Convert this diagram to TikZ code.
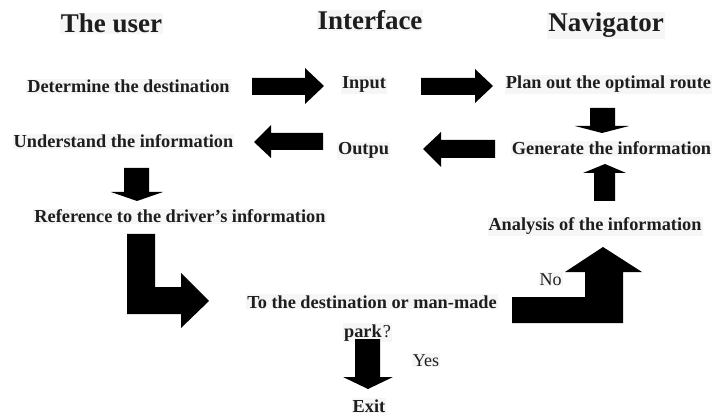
\documentclass[tikz,border=0pt]{standalone}
\usepackage{fontspec}
\setmainfont{Liberation Serif}
\definecolor{ink}{RGB}{30,30,30}
\definecolor{txtbg}{RGB}{246,246,246}
\begin{document}
\begin{tikzpicture}[x=1pt,y=-1pt,
  head/.style={anchor=base,inner sep=1pt,fill=txtbg,text=ink,font=\fontsize{27}{32}\selectfont\bfseries},
  lbl/.style={anchor=base,inner sep=1pt,fill=txtbg,text=ink,font=\fontsize{18.3}{22}\selectfont\bfseries},
  ans/.style={anchor=base,inner sep=1pt,fill=txtbg,text=ink,font=\fontsize{18}{22}\selectfont},
  blk/.style={fill=black}]
\useasboundingbox[fill=white] (0,0) rectangle (713,417);
% headings
\node[head] (huser) at (111.5,33) {The user};
\node[head] (hint) at (370,30) {Interface};
\node[head] (hnav) at (606,32) {Navigator};
% labels
\node[lbl] (det) at (128.5,93) {Determine the destination};
\node[lbl] (inp) at (364,89) {Input};
\node[lbl] (plan) at (608.5,89) {Plan out the optimal route};
\node[lbl] (und) at (123.5,148) {Understand the information};
\node[lbl] (out) at (363.5,155) {Outpu};
\node[lbl] (gen) at (611.5,155) {Generate the information};
\node[lbl] (ref) at (180,223) {Reference to the driver’s information};
\node[lbl] (ana) at (595,231) {Analysis of the information};
\node[lbl] (dest) at (372,308) {To the destination or man-made};
\node[lbl] (park) at (367.5,337) {park\kern1pt\mdseries ?};
\node[ans] (yes) at (426,366) {Yes};
\node[ans] (no) at (550.5,285) {No};
\node[lbl] (exit) at (369,412) {Exit};
% block arrows
% A1 right
\fill[blk] (252,78) -- (305,78) -- (305,68) -- (324,86) -- (305,104) -- (305,95) -- (252,95) -- cycle;
% A2 right
\fill[blk] (421,78) -- (475,78) -- (475,69) -- (493,86) -- (475,103) -- (475,95) -- (421,95) -- cycle;
% A3 down under Plan
\fill[blk] (590,108) -- (615,108) -- (615,126) -- (629,126) -- (602,133) -- (575,126) -- (590,126) -- cycle;
% A4 left
\fill[blk] (323,133) -- (271,133) -- (271,125) -- (254,142) -- (271,158) -- (271,150) -- (323,150) -- cycle;
% A5 left
\fill[blk] (495,140) -- (441,140) -- (441,132) -- (423,149) -- (441,167) -- (441,158) -- (495,158) -- cycle;
% A6 up
\fill[blk] (594,201) -- (594,173) -- (583,173) -- (605,164) -- (626,173) -- (615,173) -- (615,201) -- cycle;
% A7 down under Understand
\fill[blk] (124,168) -- (149,168) -- (149,192) -- (163,192) -- (137,201) -- (111,192) -- (124,192) -- cycle;
% A8 L arrow
\fill[blk] (127,234) -- (155,234) -- (155,287) -- (181,287) -- (181,273) -- (209,301) -- (181,328) -- (181,314) -- (127,314) -- cycle;
% A9 down (Yes)
\fill[blk] (355,339) -- (380,339) -- (380,377) -- (393,377) -- (368,389) -- (343,377) -- (355,377) -- cycle;
% A10 No arrow
\fill[blk] (512,297) -- (585,297) -- (585,272) -- (565,272) -- (603,247) -- (642,272) -- (623,272) -- (623,323) -- (512,323) -- cycle;
\end{tikzpicture}
\end{document}
